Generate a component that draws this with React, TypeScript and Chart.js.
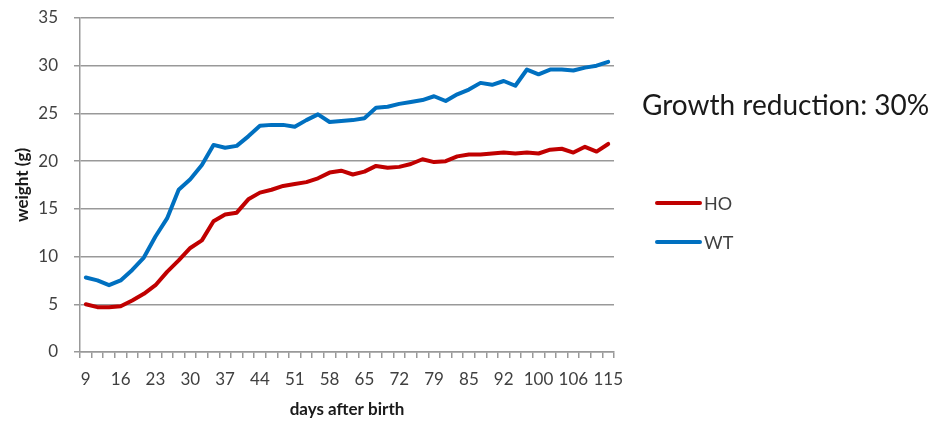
import React, { useEffect, useRef } from "react";
import { Chart, registerables } from "chart.js";

Chart.register(...registerables);

const tickLabels = ["9", "16", "23", "30", "37", "44", "51", "58", "65", "72", "79", "85", "92", "100", "106", "115"];
const categories: string[] = Array.from({ length: 46 }, (_, i) => (i % 3 === 0 ? tickLabels[i / 3] : ""));

const hoWeights = [
  5.0, 4.7, 4.7, 4.8, 5.4, 6.1, 7.0, 8.4, 9.6, 10.9,
  11.7, 13.7, 14.4, 14.6, 16.0, 16.7, 17.0, 17.4, 17.6, 17.8,
  18.2, 18.8, 19.0, 18.6, 18.9, 19.5, 19.3, 19.4, 19.7, 20.2,
  19.9, 20.0, 20.5, 20.7, 20.7, 20.8, 20.9, 20.8, 20.9, 20.8,
  21.2, 21.3, 20.9, 21.5, 21.0, 21.8,
];

const wtWeights = [
  7.8, 7.5, 7.0, 7.5, 8.6, 9.9, 12.1, 14.0, 17.0, 18.1,
  19.6, 21.7, 21.4, 21.6, 22.6, 23.7, 23.8, 23.8, 23.6, 24.3,
  24.9, 24.1, 24.2, 24.3, 24.5, 25.6, 25.7, 26.0, 26.2, 26.4,
  26.8, 26.3, 27.0, 27.5, 28.2, 28.0, 28.4, 27.9, 29.6, 29.1,
  29.6, 29.6, 29.5, 29.8, 30.0, 30.4,
];

const seriesNames = ["HO", "WT"];
const seriesColors = ["#C00000", "#0070C0"];
const annotationText = "Growth reduction: 30%";

const FONT = "Lato, 'Open Sans', sans-serif";

const sidePlugin = {
  id: "sidePanel",
  afterDraw(chart: any) {
    const ctx = chart.ctx as CanvasRenderingContext2D;
    ctx.save();
    ctx.fillStyle = "#1a1a1a";
    ctx.font = `28px ${FONT}`;
    ctx.textAlign = "left";
    ctx.textBaseline = "middle";
    ctx.fillText(annotationText, 642, 106);
    const ys = [203, 242];
    chart.data.datasets.forEach((ds: any, i: number) => {
      ctx.strokeStyle = ds.borderColor;
      ctx.lineWidth = 4;
      ctx.lineCap = "round";
      ctx.beginPath();
      ctx.moveTo(657, ys[i]);
      ctx.lineTo(700, ys[i]);
      ctx.stroke();
      ctx.fillStyle = "#404040";
      ctx.font = `18px ${FONT}`;
      ctx.fillText(ds.label, 704, ys[i] + 1);
    });
    ctx.restore();
  },
};

export default function App() {
  const ref = useRef<HTMLCanvasElement | null>(null);
  useEffect(() => {
    document.body.style.margin = "0";
    const canvas = ref.current;
    if (!canvas) return;
    const chart = new Chart(canvas, {
      type: "line",
      data: {
        labels: categories,
        datasets: [
          {
            label: seriesNames[0],
            data: hoWeights,
            borderColor: seriesColors[0],
            backgroundColor: seriesColors[0],
            borderWidth: 4,
            pointRadius: 0,
            tension: 0,
            borderJoinStyle: "round",
            borderCapStyle: "round",
          },
          {
            label: seriesNames[1],
            data: wtWeights,
            borderColor: seriesColors[1],
            backgroundColor: seriesColors[1],
            borderWidth: 4,
            pointRadius: 0,
            tension: 0,
            borderJoinStyle: "round",
            borderCapStyle: "round",
          },
        ],
      },
      options: {
        animation: false,
        responsive: false,
        devicePixelRatio: 1,
        layout: { padding: { top: 18, right: 320, left: 0, bottom: 0 } },
        plugins: {
          legend: { display: false },
          tooltip: { enabled: false },
        },
        scales: {
          x: {
            type: "category",
            offset: true,
            grid: {
              offset: true,
              drawOnChartArea: false,
              drawTicks: true,
              tickLength: 6,
              color: "#999999",
              lineWidth: 1.5,
            },
            border: { color: "#999999", width: 1.5 },
            ticks: {
              autoSkip: false,
              maxRotation: 0,
              minRotation: 0,
              padding: 11,
              color: "#404040",
              font: { family: FONT, size: 17 },
            },
            title: {
              display: true,
              text: "days after birth",
              color: "#1a1a1a",
              font: { family: FONT, size: 17, weight: "bold" },
              padding: { top: 4, bottom: 5 },
            },
            afterFit(scale: any) {
              scale.height = 73;
            },
          },
          y: {
            min: 0,
            max: 35,
            ticks: {
              stepSize: 5,
              padding: 16,
              color: "#404040",
              font: { family: FONT, size: 17 },
            },
            grid: {
              color: "#999999",
              lineWidth: 1.5,
              tickLength: 6,
            },
            border: { color: "#999999", width: 1.5 },
            title: {
              display: true,
              text: "weight (g)",
              color: "#1a1a1a",
              font: { family: FONT, size: 17, weight: "bold" },
              padding: { top: 12, bottom: 0 },
            },
            afterFit(scale: any) {
              scale.width = 80;
              scale.paddingTop = 10;
              scale.paddingBottom = 10;
            },
          },
        },
      },
      plugins: [sidePlugin],
    });
    return () => chart.destroy();
  }, []);
  return (
    <div style={{ width: 934, height: 425 }}>
      <canvas ref={ref} width={934} height={425} style={{ display: "block" }} />
    </div>
  );
}
